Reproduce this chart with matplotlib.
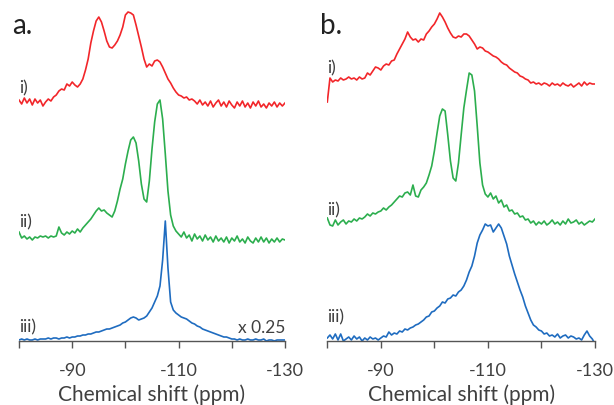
import numpy as np
import matplotlib
matplotlib.use("Agg")
import matplotlib.pyplot as plt

plt.rcParams["font.family"] = ["Lato", "DejaVu Sans"]

# chemical shift grid, 0.5 ppm steps from -80 to -130
ppm = np.linspace(-80, -130, 101)

# panel a spectra (intensity above each trace's own baseline)
a_i = [3, -1, 5, 0, 4, -2, 4, 0, 3, -3,
       1, 4, 2, 6, 8, 12, 14, 13, 19, 17,
       21, 18, 16, 19, 24, 33, 44, 60, 72, 82,
       86, 81, 72, 62, 56, 55, 58, 62, 68, 76,
       88, 91, 90, 88, 78, 67, 56, 44, 36, 39,
       37, 42, 43, 41, 36, 30, 24, 20, 15, 11,
       8, 7, 5, 6, 3, 4, 2, -1, 3, -2,
       1, -3, 2, -4, 0, 3, -3, 1, -4, 2,
       -2, -5, 1, -3, 2, -4, 0, -5, 1, -3,
       2, -4, -1, -5, 0, -3, 1, -4, 0, -3, 0]
a_ii = [7, 1, 3, 0, 2, -1, 2, 1, 3, 2,
        3, 1, 3, 2, 3, 12, 6, 4, 7, 5,
        8, 6, 10, 7, 11, 14, 17, 20, 24, 28,
        31, 28, 29, 26, 24, 22, 28, 38, 50, 60,
        75, 88, 99, 102, 96, 78, 55, 40, 37, 58,
        90, 117, 135, 139, 120, 85, 48, 24, 13, 8,
        5, 2, 7, 1, 4, -2, 5, 0, 3, -2,
        4, -1, 2, -3, 3, -2, 1, -3, 2, -4,
        1, -2, 3, -3, 0, -4, 2, -2, -4, 1,
        -3, 2, -3, 1, -4, 0, -3, 1, -3, 0, -1]
a_iii = [0, 1, 0, 1, 0, 0, 1, 0, 1, 1,
         1, 2, 1, 2, 2, 1, 2, 2, 3, 2,
         3, 3, 4, 4, 5, 5, 6, 6, 7, 8,
         8, 9, 10, 11, 11, 12, 13, 14, 15, 17,
         18, 20, 22, 23, 22, 20, 21, 22, 24, 28,
         32, 38, 44, 54, 80, 119, 72, 38, 30, 27,
         25, 23, 22, 21, 19, 17, 16, 14, 13, 11,
         10, 9, 8, 7, 6, 5, 4, 3, 3, 2,
         1, 1, 0, 1, 0, 0, 1, 0, 0, 1,
         0, 0, 1, -1, 0, 0, -1, 0, 0, 0, 0]

# panel b spectra
b_i = [-18, 6, 2, 4, 3, 6, 4, 5, 7, 5,
       6, 4, 7, 5, 6, 11, 9, 13, 17, 16,
       14, 18, 20, 19, 23, 24, 30, 35, 40, 45,
       52, 47, 44, 45, 42, 45, 44, 50, 53, 57,
       60, 65, 71, 67, 62, 56, 51, 47, 46, 48,
       47, 50, 50, 48, 44, 40, 35, 37, 36, 33,
       32, 30, 28, 27, 25, 22, 20, 19, 16, 14,
       12, 11, 8, 7, 5, 4, 1, 2, 0, 1,
       -1, 1, 0, -2, 1, -1, 0, -2, 1, -1,
       -2, 0, -3, -1, 1, -2, 2, -1, 1, 0, 0]
b_ii = [5, -2, -3, 3, -2, 1, 3, -1, 2, 1,
        4, 2, 5, 4, 6, 9, 7, 10, 9, 11,
        12, 15, 13, 16, 18, 21, 24, 27, 26, 30,
        31, 28, 38, 27, 26, 33, 36, 40, 48, 57,
        72, 90, 107, 114, 112, 88, 62, 45, 42, 60,
        88, 115, 133, 150, 148, 132, 97, 60, 38, 29,
        26, 30, 24, 27, 20, 23, 16, 18, 12, 13,
        9, 10, 6, 7, 3, 4, 0, 2, -2, 1,
        -1, 2, -2, 0, 3, -1, 1, -2, 2, -1,
        4, 0, 1, 3, -1, 1, -2, 0, 2, 1, 4]
b_iii = [2, 5, 1, 6, 0, 6, -1, 1, 3, 0,
         4, 1, 3, -1, 2, 0, 3, 1, 2, 0,
         2, 4, 3, 8, 5, 7, 6, 9, 8, 11,
         10, 12, 13, 15, 16, 18, 20, 23, 24, 28,
         29, 32, 34, 38, 37, 41, 42, 45, 44, 48,
         50, 54, 60, 68, 74, 84, 97, 105, 110, 116,
         114, 115, 108, 112, 116, 112, 104, 96, 84, 75,
         66, 58, 50, 43, 34, 27, 20, 15, 13, 10,
         9, 6, 7, 4, 5, 3, 6, 2, 4, 5,
         2, 4, 3, 1, 2, 0, 5, 9, 4, 1, -4]

labels = ["i)", "ii)", "iii)"]
colors = ["#f2262a", "#2cae4e", "#1f6cc0"]
ticks = [-80, -90, -100, -110, -120, -130]
ticklabels = ["", "-90", "", "-110", "", "-130"]

# vertical stacking of the three traces in each panel
offsets_a = [238, 102, 1]
offsets_b = [257, 118, 1]

fig = plt.figure(figsize=(6.14, 4.06), dpi=100)
ax_a = fig.add_axes([19 / 614, 64 / 406, 266 / 614, 332 / 406])
ax_b = fig.add_axes([327.3 / 614, 64 / 406, 267.7 / 614, 332 / 406])

gray = "#404040"
for ax, traces, offs, tag, label_dy in [
        (ax_a, [a_i, a_ii, a_iii], offsets_a, "a.", [16, 18, 14]),
        (ax_b, [b_i, b_ii, b_iii], offsets_b, "b.", [17, 14, 24])]:
    for y, off, c, lab, dy in zip(traces, offs, colors, labels, label_dy):
        ax.plot(ppm, np.array(y) + off, color=c, lw=1.2, solid_joinstyle="round")
        ax.text(-80, off + dy, lab, color=gray, fontsize=12.5, va="center", ha="left")
    ax.set_xlim(-80, -130)
    ax.set_ylim(0, 332)
    ax.set_xticks(ticks)
    ax.set_xticklabels(ticklabels)
    ax.set_yticks([])
    for s in ["left", "right", "top"]:
        ax.spines[s].set_visible(False)
    ax.spines["bottom"].set_color("#555555")
    ax.spines["bottom"].set_linewidth(1.0)
    ax.tick_params(axis="x", direction="out", length=5, width=1.0, color="#555555",
                   labelsize=13, labelcolor=gray, pad=10)
    ax.set_xlabel("Chemical shift (ppm)", fontsize=15, color=gray, labelpad=4)
    ax.patch.set_alpha(0)
    fig.text(ax.get_position().x0 - 0.012, 0.935, tag, fontsize=20, color="#222222",
             va="center", ha="left")

ax_a.text(-130, 14, "x 0.25", color=gray, fontsize=12.5, va="center", ha="right")

fig.savefig("out.png", dpi=100)
